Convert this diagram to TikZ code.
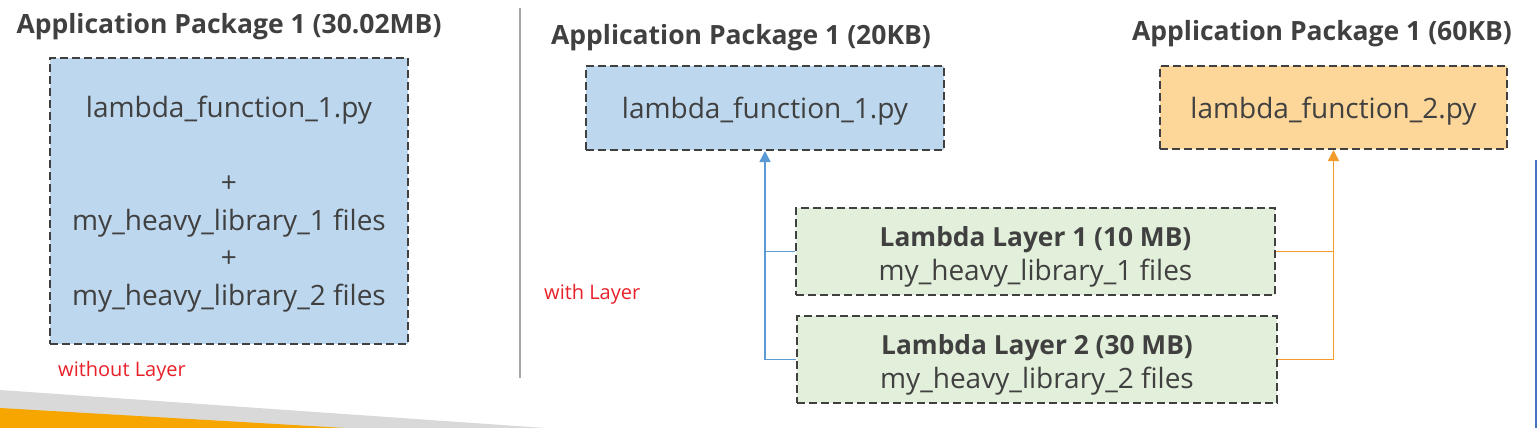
\documentclass[tikz,border=0pt]{standalone}
\usepackage{fontspec}
\setmainfont{Open Sans}
\usetikzlibrary{arrows.meta}
\definecolor{txt}{HTML}{404040}
\definecolor{bluefill}{RGB}{189,215,238}
\definecolor{orangefill}{RGB}{253,214,153}
\definecolor{greenfill}{RGB}{226,239,218}
\definecolor{blueline}{HTML}{5B9BD5}
\definecolor{orangeline}{HTML}{F39C2B}
\definecolor{redtxt}{HTML}{E8202A}
\definecolor{divider}{HTML}{A6A6A6}
\definecolor{edgeblue}{HTML}{4472C4}
\definecolor{wedgegray}{HTML}{D9D9D9}
\definecolor{wedgeorange}{HTML}{F7A600}
\newcommand\lowerstrut[1]{\rule{0pt}{#1}}
\tikzset{
  pkgbox/.style={draw=txt, line width=2pt, dash pattern=on 8pt off 4pt, text=txt, inner sep=0pt, align=center, font=\fontsize{28}{37.5}\selectfont},
  ttl/.style={text=txt, inner sep=0pt, font=\fontsize{26.5}{30}\selectfont\bfseries},
  note/.style={text=redtxt, inner sep=0pt, anchor=west, font=\fontsize{20}{24}\selectfont},
  conn/.style={line width=1.6pt},
}
\begin{document}
\begin{tikzpicture}[x=1pt,y=-1pt]
\useasboundingbox (0,0) rectangle (1540,428);
% bottom-left wedges
\fill[wedgegray] (0,390) -- (545,428) -- (0,428) -- cycle;
\fill[wedgeorange] (0,408) -- (345,428) -- (0,428) -- cycle;
% divider and right edge line
\coordinate (dtop) at (520,8);
\coordinate (dbot) at (520,378);
\draw[divider, line width=1.3pt] (dtop) -- (dbot);
\coordinate (etop) at (1536,160);
\coordinate (ebot) at (1536,428);
\draw[edgeblue, line width=2pt] (etop) -- (ebot);
% left
\node[ttl] (t1) at (229,27) {Application Package 1 (30.02MB)};
\node[pkgbox, fill=bluefill, minimum width=358pt, minimum height=286pt] (box1) at (229,201)
  {\lowerstrut{28pt}lambda\_function\_1.py\\ \\ +\\ my\_heavy\_library\_1 files\\ +\\ my\_heavy\_library\_2 files};
\node[note] (n1) at (58,371) {without Layer};
% middle
\node[ttl] (t2) at (741,38) {Application Package 1 (20KB)};
\node[pkgbox, fill=bluefill, minimum width=358pt, minimum height=84pt] (box2) at (765,108) {\lowerstrut{28pt}lambda\_function\_1.py};
\node[note] (n2) at (544,294) {with Layer};
% right
\node[ttl] (t3) at (1322,34) {Application Package 1 (60KB)};
\node[pkgbox, fill=orangefill, minimum width=347pt, minimum height=83pt] (box3) at (1333.5,107.5) {\lowerstrut{28pt}lambda\_function\_2.py};
% layers
\node[pkgbox, fill=greenfill, minimum width=479pt, minimum height=87pt, font=\fontsize{28}{34}\selectfont] (L1) at (1035.5,251.5)
  {{\fontsize{26.3}{34}\selectfont\bfseries\lowerstrut{30pt}Lambda Layer 1 (10 MB)}\\ my\_heavy\_library\_1 files};
\node[pkgbox, fill=greenfill, minimum width=480pt, minimum height=87pt, font=\fontsize{28}{34}\selectfont] (L2) at (1037,359.5)
  {{\fontsize{26.3}{34}\selectfont\bfseries\lowerstrut{30pt}Lambda Layer 2 (30 MB)}\\ my\_heavy\_library\_2 files};
% connectors
\draw[conn, blueline, -{Triangle[length=11pt,width=11pt]}] (L2.west) -| (box2.south);
\draw[conn, blueline] (L1.west) -- (L1.west -| box2.south);
\draw[conn, orangeline, -{Triangle[length=11pt,width=11pt]}] (L2.east) -| (box3.south);
\draw[conn, orangeline] (L1.east) -- (L1.east -| box3.south);
\end{tikzpicture}
\end{document}
